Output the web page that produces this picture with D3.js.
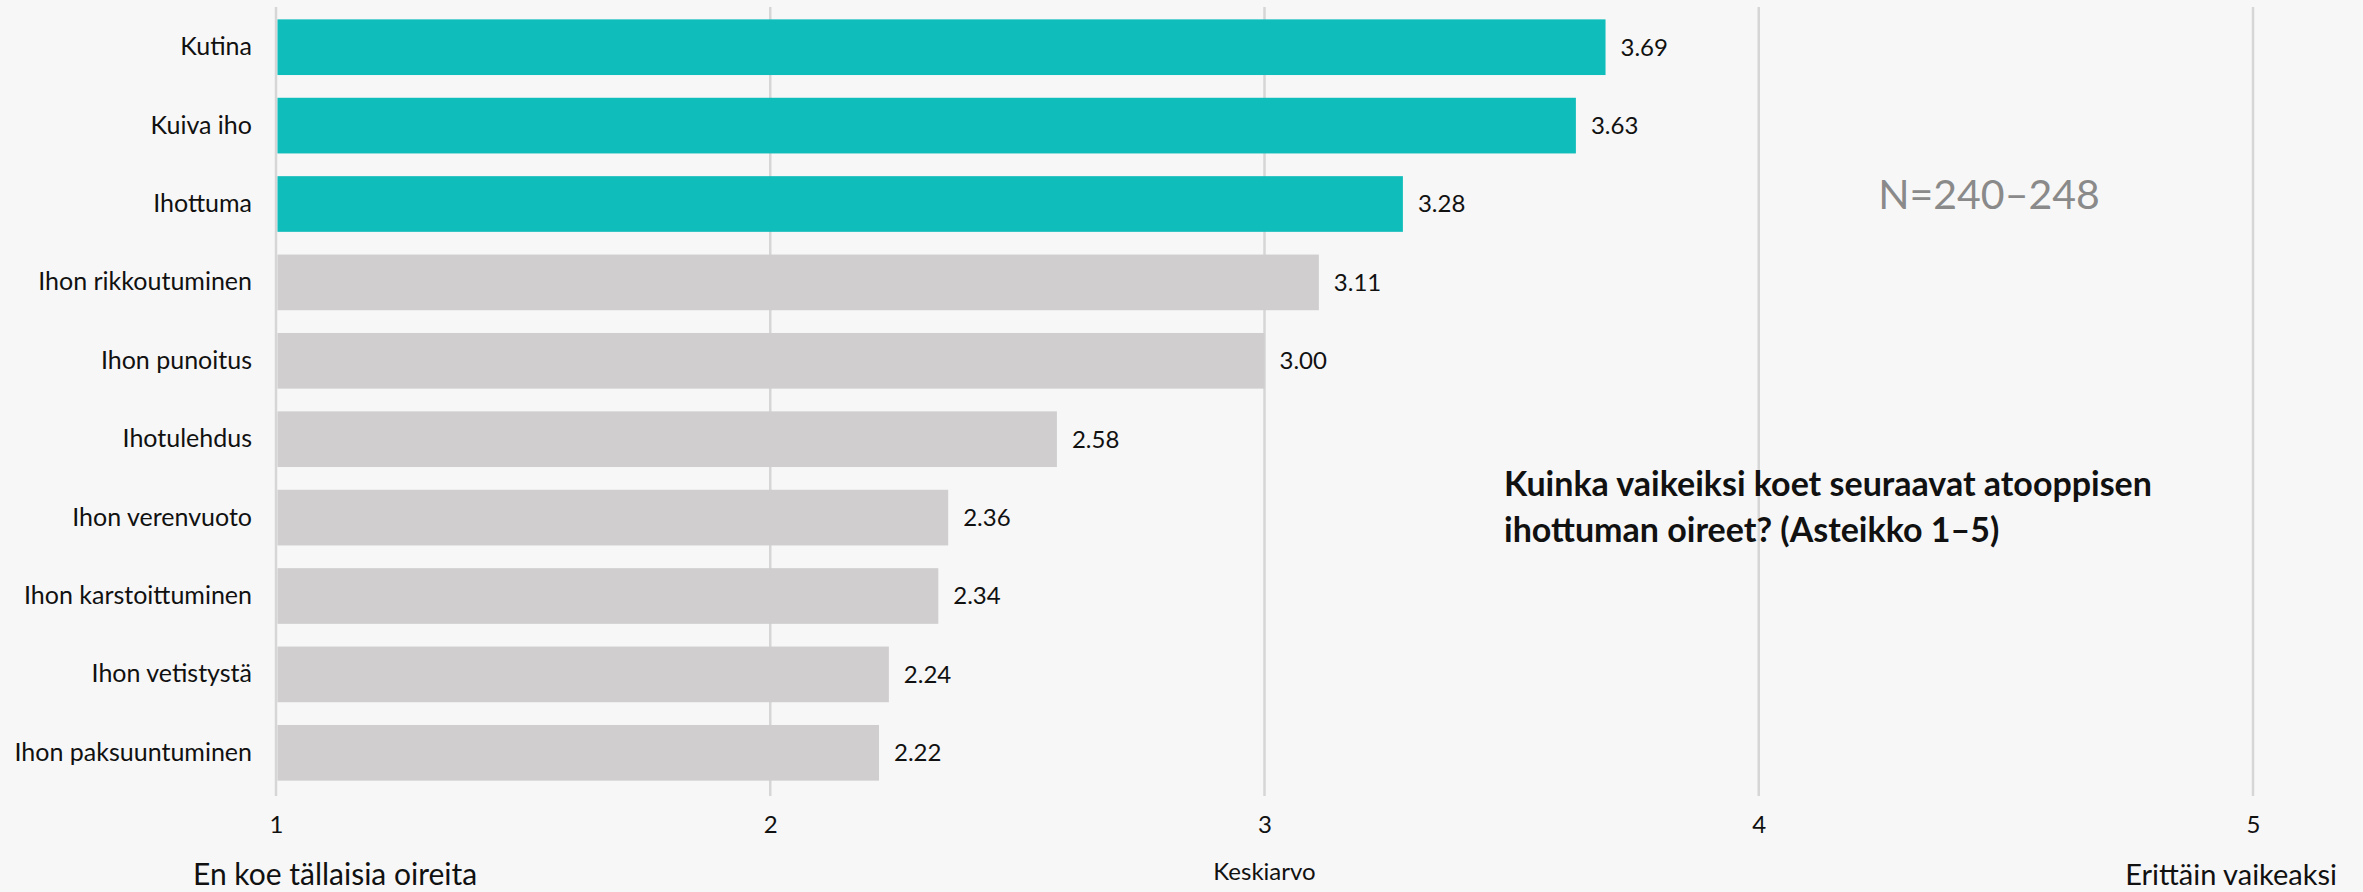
<!DOCTYPE html>
<html>
<head>
<meta charset="utf-8">
<script src="https://cdn.jsdelivr.net/npm/d3@7"></script>
<style>
  html, body { margin: 0; padding: 0; background: #f7f7f7; }
  svg { display: block; }
  text { font-family: Lato, "Open Sans", sans-serif; fill: #111; }
</style>
</head>
<body>
<svg id="chart" width="2363" height="892"></svg>
<script>
const categories = ["Kutina", "Kuiva iho", "Ihottuma", "Ihon rikkoutuminen", "Ihon punoitus",
  "Ihotulehdus", "Ihon verenvuoto", "Ihon karstoittuminen", "Ihon vetistystä", "Ihon paksuuntuminen"];
const values = [3.69, 3.63, 3.28, 3.11, 3.00, 2.58, 2.36, 2.34, 2.24, 2.22];
const highlighted = ["Kutina", "Kuiva iho", "Ihottuma"];
const ticks = [1, 2, 3, 4, 5];
const titleLines = ["Kuinka vaikeiksi koet seuraavat atooppisen", "ihottuman oireet? (Asteikko 1–5)"];
const nLabel = "N=240–248";
const axisTitle = "Keskiarvo";
const lowLabel = "En koe tällaisia oireita";
const highLabel = "Erittäin vaikeaksi";

const svg = d3.select("#chart");
const W = 2363, H = 892;
svg.append("rect").attr("width", W).attr("height", H).attr("fill", "#f7f7f7");

const x = d3.scaleLinear().domain([1, 5]).range([276, 2253]);
const y = d3.scaleBand().domain(categories).range([8, 792]).paddingInner(0.29).paddingOuter(0.145);

// gridlines
svg.append("g").selectAll("line").data(ticks).join("line")
  .attr("x1", d => x(d)).attr("x2", d => x(d))
  .attr("y1", 7).attr("y2", 796)
  .attr("stroke", "#d6d6d6").attr("stroke-width", 2.5);

// bars
svg.append("g").selectAll("rect").data(categories).join("rect")
  .attr("x", x(1) + 1.5)
  .attr("y", d => y(d))
  .attr("width", (d, i) => x(values[i]) - x(1) - 1.5)
  .attr("height", y.bandwidth())
  .attr("fill", d => highlighted.includes(d) ? "#0fbdba" : "#d0cece");

// value labels
svg.append("g").selectAll("text").data(categories).join("text")
  .attr("x", (d, i) => x(values[i]) + 15)
  .attr("y", d => y(d) + y.bandwidth() / 2)
  .attr("dy", "0.35em")
  .attr("font-size", 24)
  .text((d, i) => values[i].toFixed(2));

// y axis labels
const yAxis = d3.axisLeft(y).tickSize(0).tickPadding(24);
const gy = svg.append("g").attr("transform", `translate(${x(1)},0)`).call(yAxis);
gy.select(".domain").remove();
gy.selectAll("text").attr("font-size", 25).attr("font-family", "Lato").attr("fill", "#111");

// x axis tick labels
const xAxis = d3.axisBottom(x).tickValues(ticks).tickFormat(d3.format("d")).tickSize(0).tickPadding(0);
const gx = svg.append("g").attr("transform", `translate(0,816)`).call(xAxis);
gx.select(".domain").remove();
gx.selectAll("text").attr("font-size", 24).attr("font-family", "Lato").attr("fill", "#111");

// axis title and end labels
svg.append("text").attr("x", x(3)).attr("y", 880).attr("text-anchor", "middle")
  .attr("font-size", 24).text(axisTitle);
svg.append("text").attr("x", 193).attr("y", 885)
  .attr("font-size", 30).text(lowLabel);
svg.append("text").attr("x", 2337).attr("y", 885).attr("text-anchor", "end")
  .attr("font-size", 29).text(highLabel);

// N label
svg.append("text").attr("x", 1989).attr("y", 209).attr("text-anchor", "middle")
  .attr("font-size", 41).style("fill", "#8a8a8a").text(nLabel);

// title
svg.append("g").selectAll("text").data(titleLines).join("text")
  .attr("x", 1504).attr("y", (d, i) => 496 + i * 46)
  .attr("font-size", 34).attr("font-weight", "bold").text(d => d);
</script>
</body>
</html>
